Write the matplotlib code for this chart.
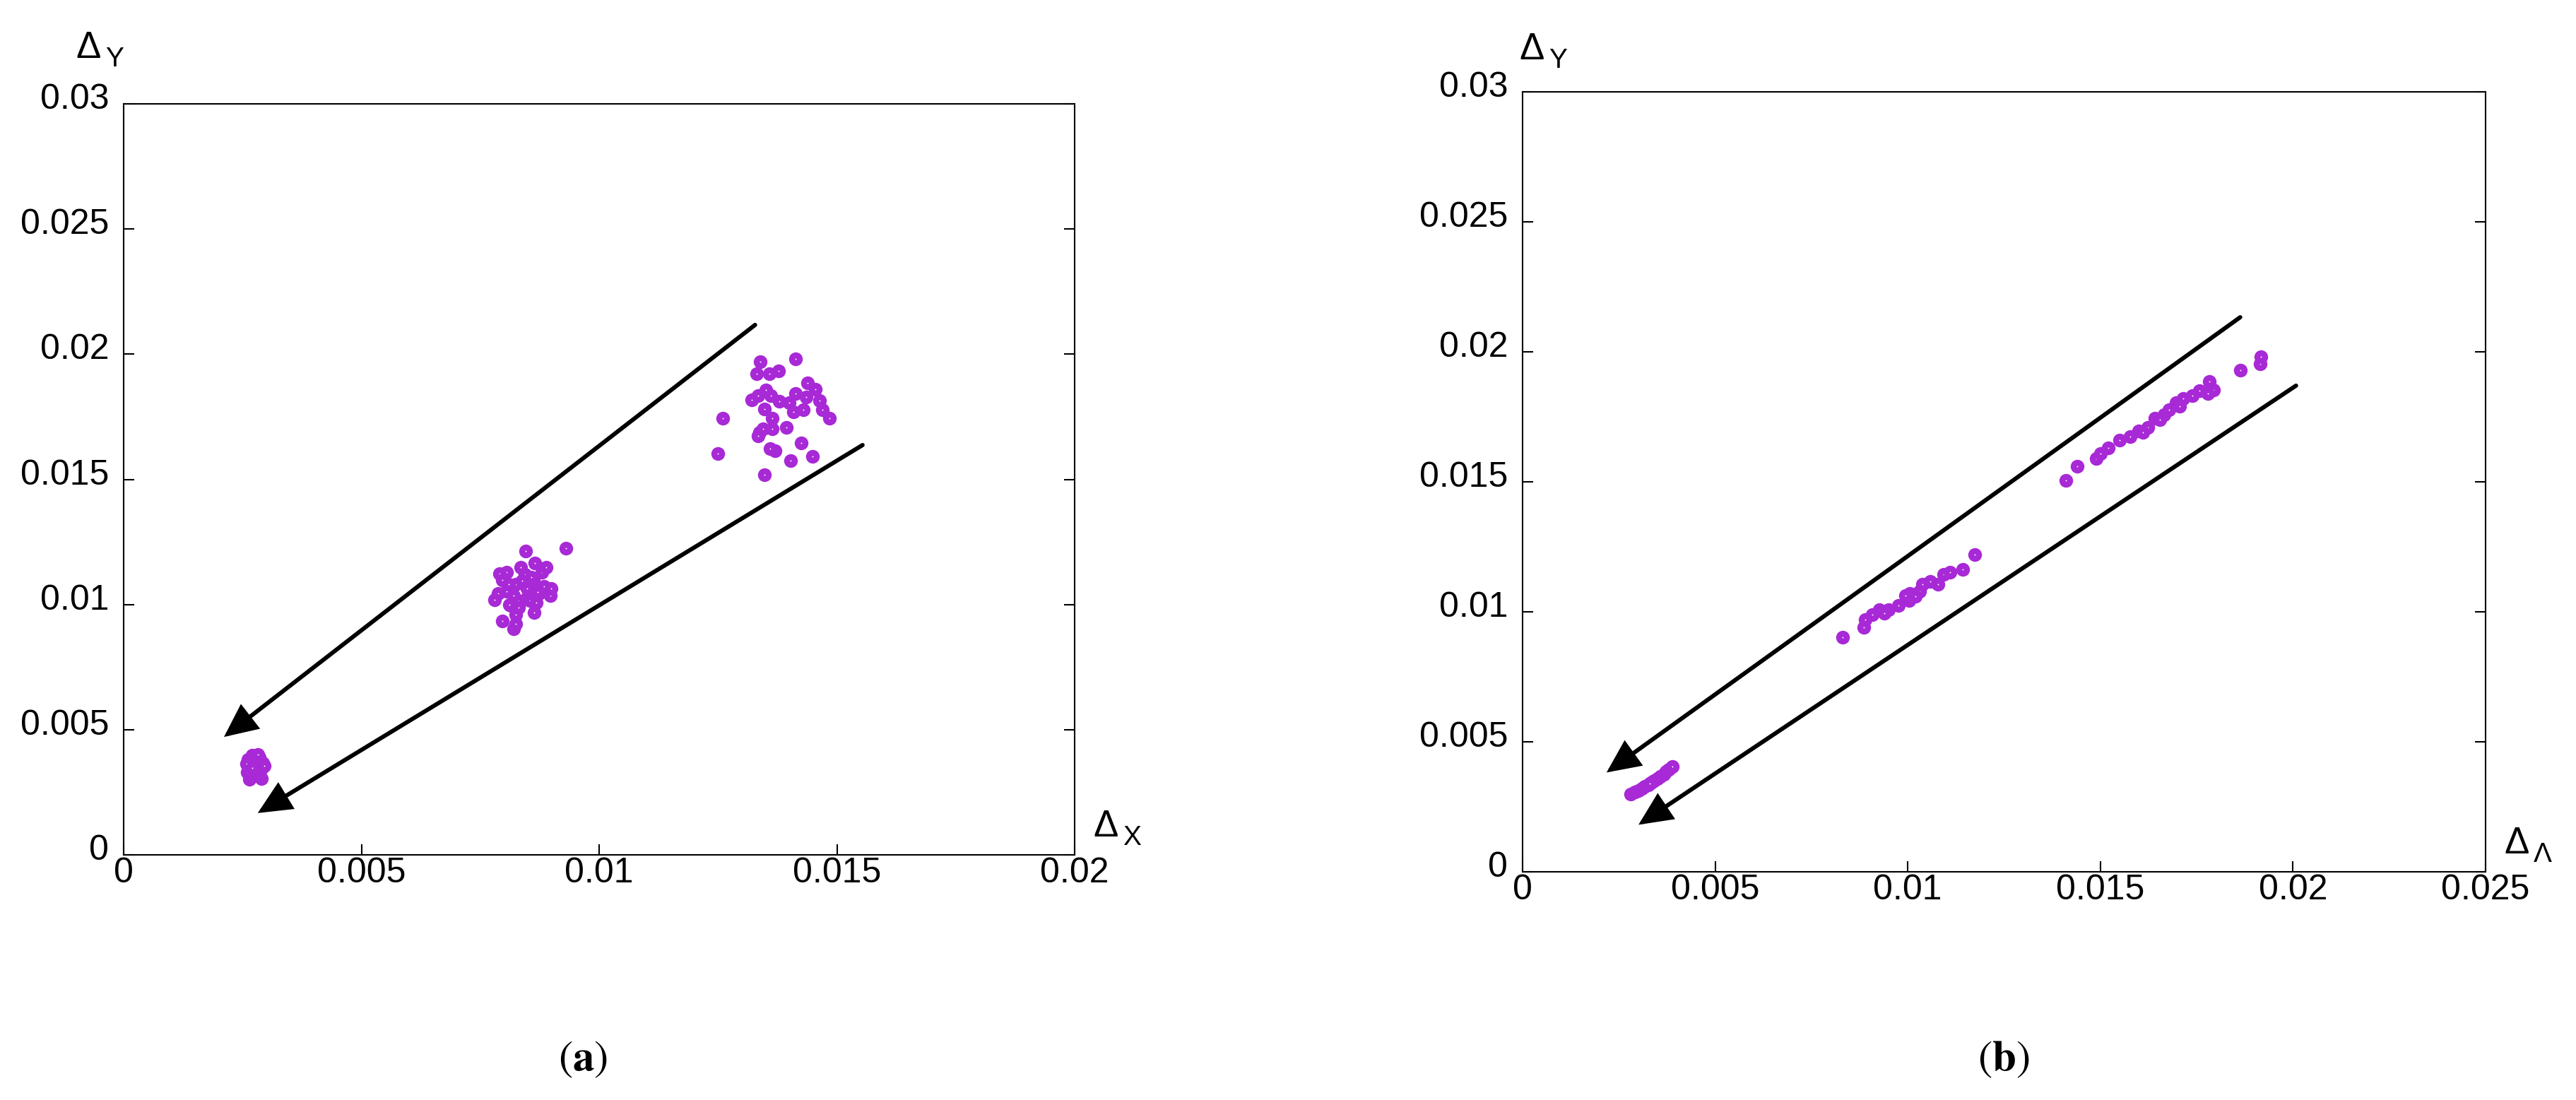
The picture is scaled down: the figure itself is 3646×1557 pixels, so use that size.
import matplotlib
matplotlib.use("Agg")
import matplotlib.pyplot as plt
from matplotlib.patches import FancyArrowPatch
from matplotlib.transforms import ScaledTranslation

plt.rcParams['font.family'] = ['Liberation Sans', 'DejaVu Sans']

purple = '#a829d6'

# panel (a): three clusters of (dX, dY)
a_x = [0.00265, 0.00290, 0.00272, 0.00260, 0.00285, 0.00275, 0.00262, 0.00290, 0.00280, 0.00268,
       0.00292, 0.00275, 0.00262, 0.00285, 0.00270, 0.00282, 0.00258, 0.00295, 0.00278, 0.00270,
       0.00845, 0.00930, 0.00865, 0.00806, 0.00790, 0.00796, 0.00862, 0.00787, 0.00780, 0.00846,
       0.00854, 0.00868, 0.00898, 0.00796, 0.00820, 0.00835, 0.00825, 0.00879, 0.00884, 0.00805,
       0.00830, 0.00864, 0.00825, 0.00820, 0.00849, 0.00874, 0.00810, 0.00889, 0.00844, 0.00899,
       0.00815, 0.00825, 0.00838, 0.00858, 0.00812, 0.00870,
       0.01413, 0.01331, 0.01358, 0.01377, 0.01339, 0.01439, 0.01455, 0.01361, 0.01413, 0.01436,
       0.01321, 0.01348, 0.01409, 0.01364, 0.01484, 0.01260, 0.01425, 0.01449, 0.01403, 0.01250,
       0.01347, 0.01337, 0.01335, 0.01370, 0.01360, 0.01379, 0.01464, 0.01469, 0.01394, 0.01350,
       0.01429, 0.01399, 0.01345, 0.01364, 0.01335]
a_y = [0.00302, 0.00305, 0.00315, 0.00330, 0.00325, 0.00340, 0.00355, 0.00345, 0.00360, 0.00372,
       0.00368, 0.00385, 0.00380, 0.00390, 0.00398, 0.00400, 0.00365, 0.00355, 0.00330, 0.00348,
       0.01214, 0.01226, 0.01165, 0.01129, 0.01122, 0.01098, 0.01098, 0.01044, 0.01019, 0.01023,
       0.01016, 0.01007, 0.01037, 0.00934, 0.00903, 0.01148, 0.01082, 0.01129, 0.01072, 0.01054,
       0.00988, 0.00969, 0.00960, 0.01035, 0.01063, 0.01044, 0.01082, 0.01148, 0.01120, 0.01063,
       0.00997, 0.00922, 0.01095, 0.01110, 0.01000, 0.01050,
       0.01982, 0.01921, 0.01921, 0.01933, 0.01971, 0.01884, 0.01860, 0.01834, 0.01842, 0.01830,
       0.01818, 0.01781, 0.01769, 0.01745, 0.01745, 0.01745, 0.01646, 0.01593, 0.01574, 0.01604,
       0.01517, 0.01689, 0.01674, 0.01613, 0.01623, 0.01811, 0.01816, 0.01778, 0.01707, 0.01858,
       0.01778, 0.01806, 0.01703, 0.01703, 0.01834]

# panel (b): points along the diagonal (dLambda, dY)
b_x = [0.00281, 0.00292, 0.00300, 0.00310, 0.00318, 0.00326, 0.00335, 0.00342, 0.00350, 0.00358,
       0.00366, 0.00372, 0.00380, 0.00388, 0.00330,
       0.00831, 0.00885, 0.00890, 0.00926, 0.00951, 0.00975, 0.01003, 0.01006, 0.01030, 0.01039,
       0.01059, 0.01079, 0.01094, 0.01110, 0.01142, 0.01174, 0.00908, 0.00994, 0.00940, 0.01020,
       0.01411, 0.01440, 0.01490, 0.01500, 0.01520, 0.01550,
       0.01577, 0.01599, 0.01623, 0.01642, 0.01666, 0.01678, 0.01697, 0.01715, 0.01739, 0.01757,
       0.01782, 0.01794, 0.01779, 0.01863, 0.01914, 0.01917, 0.01610, 0.01655, 0.01705]
b_y = [0.00299, 0.00308, 0.00313, 0.00320, 0.00330, 0.00335, 0.00345, 0.00350, 0.00360, 0.00368,
       0.00375, 0.00385, 0.00395, 0.00405, 0.00340,
       0.00903, 0.00939, 0.00971, 0.01007, 0.01007, 0.01025, 0.01043, 0.01071, 0.01080, 0.01107,
       0.01116, 0.01107, 0.01143, 0.01152, 0.01164, 0.01220, 0.00989, 0.01062, 0.00995, 0.01060,
       0.01505, 0.01560, 0.01590, 0.01610, 0.01630, 0.01660,
       0.01673, 0.01696, 0.01709, 0.01745, 0.01759, 0.01777, 0.01804, 0.01822, 0.01832, 0.01850,
       0.01886, 0.01854, 0.01840, 0.01929, 0.01954, 0.01981, 0.01690, 0.01740, 0.01790]

# arrows (start, end) in data units
a_arrows = [((0.01328, 0.02117), (0.00211, 0.00471)),
            ((0.01554, 0.01637), (0.00282, 0.00167))]
b_arrows = [((0.01863, 0.02133), (0.00218, 0.00382)),
            ((0.02008, 0.01870), (0.00301, 0.00181))]

y_ticks = [0, 0.005, 0.01, 0.015, 0.02, 0.025, 0.03]
y_labels = ['0', '0.005', '0.01', '0.015', '0.02', '0.025', '0.03']
a_xticks = [0, 0.005, 0.01, 0.015, 0.02]
a_xlabels = ['0', '0.005', '0.01', '0.015', '0.02']
b_xticks = [0, 0.005, 0.01, 0.015, 0.02, 0.025]
b_xlabels = ['0', '0.005', '0.01', '0.015', '0.02', '0.025']

W, H = 3646, 1557
fig = plt.figure(figsize=(W / 100, H / 100), dpi=100)


def px_axes(left, top, right, bottom):
    return fig.add_axes([left / W, 1 - bottom / H, (right - left) / W, (bottom - top) / H])


def style(ax, xticks, xlabels, xmax):
    ax.set_xlim(0, xmax)
    ax.set_ylim(0, 0.03)
    ax.set_xticks(xticks, xlabels)
    ax.set_yticks(y_ticks, y_labels)
    for s in ax.spines.values():
        s.set_linewidth(1.5)
    ax.tick_params(direction='in', length=11, width=1.5, labelsize=36,
                   right=True, top=False)
    ax.tick_params(axis='x', pad=2)
    ax.tick_params(axis='y', pad=15)
    for lab in ax.get_yticklabels():
        lab.set_transform(lab.get_transform() + ScaledTranslation(0, 11 / 100, fig.dpi_scale_trans))


def points(ax, xs, ys):
    for x, y in zip(xs, ys):
        ax.plot(x, y, 'o', ms=14, color=purple, mec='none', zorder=3)
        ax.plot(x, y, 'o', ms=1.4, color='white', mec='none', zorder=3)


def arrows(ax, arr):
    for p0, p1 in arr:
        ax.add_patch(FancyArrowPatch(p0, p1, arrowstyle='-|>,head_length=0.9,head_width=0.42',
                                     mutation_scale=30, lw=4.3, color='black',
                                     shrinkA=0, shrinkB=0, zorder=4, joinstyle='miter'))


def delta_label(x, y, sub):
    fig.text(x / W, 1 - y / H, '\u0394', fontsize=38, ha='left', va='baseline')
    fig.text((x + 42) / W, 1 - (y + 12) / H, sub, fontsize=28, ha='left', va='baseline')


ax1 = px_axes(175, 147, 1521, 1210)
style(ax1, a_xticks, a_xlabels, 0.02)
points(ax1, a_x, a_y)
arrows(ax1, a_arrows)

ax2 = px_axes(2155, 130, 3518, 1234)
style(ax2, b_xticks, b_xlabels, 0.025)
points(ax2, b_x, b_y)
arrows(ax2, b_arrows)

delta_label(107, 82, 'Y')
delta_label(1547, 1184, 'X')
delta_label(2150, 84, 'Y')
delta_label(3544, 1208, '\u039b')

fig.text(825 / W, 1 - 1500 / H, r'$(\mathbf{a})$', math_fontfamily='stix', fontsize=44,
         ha='center', va='center')
fig.text(2836 / W, 1 - 1500 / H, r'$(\mathbf{b})$', math_fontfamily='stix', fontsize=44,
         ha='center', va='center')

fig.savefig('out.png', dpi=100)
